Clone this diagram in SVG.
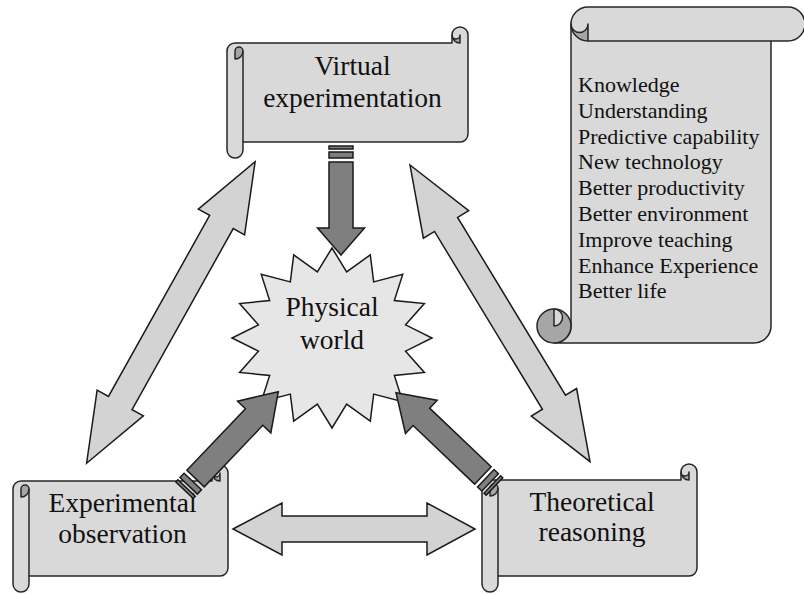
<svg xmlns="http://www.w3.org/2000/svg" width="804" height="594" viewBox="0 0 804 594">
<style>
.body{fill:#d9d9d9;stroke:#262626;stroke-width:1.5;stroke-linejoin:round}
.dark{fill:#a6a6a6;stroke:#262626;stroke-width:1.5;stroke-linejoin:round}
.ln{fill:none;stroke:#262626;stroke-width:1.5}
.star{fill:#e6e6e6;stroke:#1a1a1a;stroke-width:1.5;stroke-linejoin:miter}
.lt{fill:#d3d3d3;stroke:#1a1a1a;stroke-width:1.5;stroke-linejoin:miter}
.dk{fill:#7f7f7f;stroke:#1a1a1a;stroke-width:1.5;stroke-linejoin:miter}
.lbl{font-family:"Liberation Serif","Times New Roman",serif;font-size:27.5px;text-anchor:middle;fill:#111}
.lst{font-family:"Liberation Serif","Times New Roman",serif;font-size:22px;fill:#111}
</style>
<defs>
<g id="darrow">
<path d="M-120,-12 L-35,-12 L-35,-23 L0,0 L-35,23 L-35,12 L-120,12 Z"/>
<rect x="-136" y="-12" width="3" height="24"/>
<rect x="-130" y="-12" width="6" height="24"/>
</g>
</defs>

<g id="physical-world">
<path class="star" d="M332,248 L346.63,271.8 L370.27,254.85 L373.67,281.88 L402.71,274.36 L394.36,300.5 L424.39,303.56 L405.56,324.83 L432,338 L405.56,351.17 L424.39,372.44 L394.36,375.5 L402.71,401.64 L373.67,394.12 L370.27,421.15 L346.63,404.2 L332,428 L317.37,404.2 L293.73,421.15 L290.33,394.12 L261.29,401.64 L269.64,375.5 L239.61,372.44 L258.44,351.17 L232,338 L258.44,324.83 L239.61,303.56 L269.64,300.5 L261.29,274.36 L290.33,281.88 L293.73,254.85 L317.37,271.8 Z"/>
<text class="lbl" x="332" y="316">Physical</text>
<text class="lbl" x="332" y="349">world</text>
</g>

<g id="virtual-experimentation" transform="translate(227,27)">
<path class="body" d="M0,24 A8,8 0 0 1 8,16 L225,16 L225,8 A8,8 0 0 1 241,8 L241,107 A8,8 0 0 1 233,115 L16,115 L16,123 A8,8 0 0 1 0,123 Z"/>
<path class="dark" d="M225,8 A4,4 0 0 0 233,8 L233,16 A8,8 0 0 1 225,8 Z"/>
<path class="dark" d="M8,32 A8,8 0 0 0 16,24 A4,4 0 0 0 8,24 Z"/>
<path class="ln" d="M16,24 L16,115"/>
<text class="lbl" x="125.5" y="48">Virtual</text>
<text class="lbl" x="125.5" y="80">experimentation</text>
</g>

<g id="experimental-observation" transform="translate(13,465)">
<path class="body" d="M0,24 A8,8 0 0 1 8,16 L199,16 L199,8 A8,8 0 0 1 215,8 L215,103 A8,8 0 0 1 207,111 L16,111 L16,119 A8,8 0 0 1 0,119 Z"/>
<path class="dark" d="M199,8 A4,4 0 0 0 207,8 L207,16 A8,8 0 0 1 199,8 Z"/>
<path class="dark" d="M8,32 A8,8 0 0 0 16,24 A4,4 0 0 0 8,24 Z"/>
<path class="ln" d="M16,24 L16,111"/>
<text class="lbl" x="109.5" y="47">Experimental</text>
<text class="lbl" x="109.5" y="78">observation</text>
</g>

<g id="theoretical-reasoning" transform="translate(482,464)">
<path class="body" d="M0,24 A8,8 0 0 1 8,16 L199,16 L199,8 A8,8 0 0 1 215,8 L215,104 A8,8 0 0 1 207,112 L16,112 L16,120 A8,8 0 0 1 0,120 Z"/>
<path class="dark" d="M199,8 A4,4 0 0 0 207,8 L207,16 A8,8 0 0 1 199,8 Z"/>
<path class="dark" d="M8,32 A8,8 0 0 0 16,24 A4,4 0 0 0 8,24 Z"/>
<path class="ln" d="M16,24 L16,112"/>
<text class="lbl" x="110" y="47">Theoretical</text>
<text class="lbl" x="110" y="77">reasoning</text>
</g>

<g id="outcomes" transform="translate(537,7)">
<path class="body" d="M17,336 A17,17 0 0 0 34,319 L34,17 A17,17 0 0 1 51,0 L251,0 A17,17 0 0 1 251,34 L234,34 L234,319 A17,17 0 0 1 217,336 Z"/>
<path class="ln" d="M51,34 L234,34"/>
<path class="dark" d="M34,17 A8.5,8.5 0 0 0 51,17 L51,34 A17,17 0 0 1 34,17 Z"/>
<circle class="dark" cx="17" cy="319" r="17"/>
<path class="body" d="M17,302 A8.5,8.5 0 0 1 17,319 Z"/>
<text class="lst" x="41" y="85">Knowledge</text>
<text class="lst" x="41" y="110.8">Understanding</text>
<text class="lst" x="41" y="136.6">Predictive capability</text>
<text class="lst" x="41" y="162.4">New technology</text>
<text class="lst" x="41" y="188.2">Better productivity</text>
<text class="lst" x="41" y="214">Better environment</text>
<text class="lst" x="41" y="239.8">Improve teaching</text>
<text class="lst" x="41" y="265.6">Enhance Experience</text>
<text class="lst" x="41" y="291.4">Better life</text>
</g>

<g id="connectors">
<path class="lt" transform="translate(170.85,312.5) rotate(-60.8)" d="M-172.7,0 L-103.7,-26.5 L-103.7,-13.5 L103.7,-13.5 L103.7,-26.5 L172.7,0 L103.7,26.5 L103.7,13.5 L-103.7,13.5 L-103.7,26.5 Z"/>
<path class="lt" transform="translate(500,313.35) rotate(58.75)" d="M-173.5,0 L-104,-26.5 L-104,-13.5 L104,-13.5 L104,-26.5 L173.5,0 L104,26.5 L104,13.5 L-104,13.5 L-104,26.5 Z"/>
<path class="lt" d="M233,529 L282,503 L282,516 L427,516 L427,503 L475,529 L427,555 L427,542 L282,542 L282,555 Z"/>
<g class="dk" transform="translate(341,255) rotate(90)">
<path d="M-93,-12 L-27,-12 L-27,-23.5 L0,0 L-27,23.5 L-27,12 L-93,12 Z"/>
<rect x="-109" y="-12" width="3" height="24"/>
<rect x="-103" y="-12" width="6" height="24"/>
</g>
<use class="dk" href="#darrow" transform="translate(278.3,391.7) rotate(-46.4)"/>
<use class="dk" href="#darrow" transform="translate(396,392.7) rotate(-136.4)"/>
</g>
</svg>
